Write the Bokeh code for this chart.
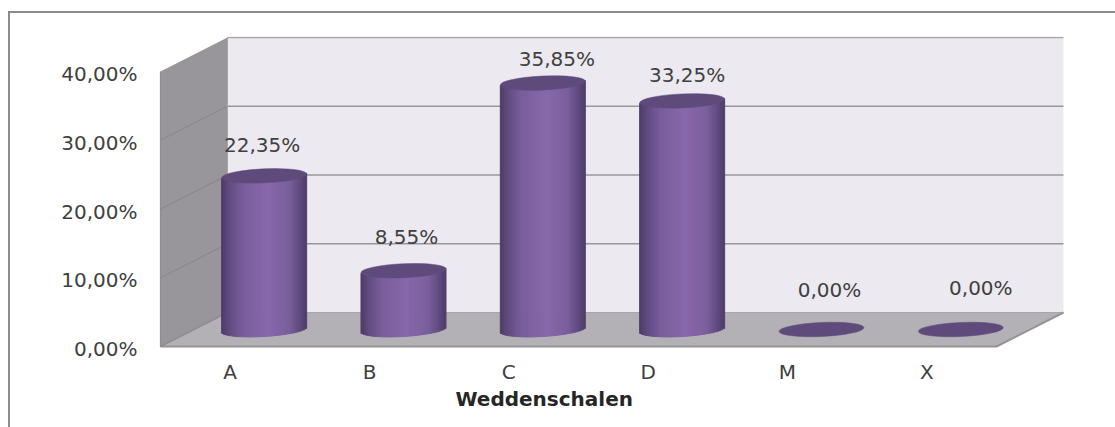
from bokeh.plotting import figure
from bokeh.models import Range1d, ColumnDataSource, Title
from bokeh.core.properties import value
from bokeh.embed import file_html
from bokeh.resources import INLINE
import numpy as np

categories = ["A", "B", "C", "D", "M", "X"]
values = [22.35, 8.55, 35.85, 33.25, 0.0, 0.0]
value_labels = ["22,35%", "8,55%", "35,85%", "33,25%", "0,00%", "0,00%"]
y_ticks = [0, 10, 20, 30, 40]
y_tick_labels = ["0,00%", "10,00%", "20,00%", "30,00%", "40,00%"]
x_title = "Weddenschalen"

FONT = "DejaVu Sans"
TXT = "#404040"
FS = "20px"

# layout (page pixels)
W, H = 1115, 427
L, R, T, B = 159, 1064, 36, 353
PX_CAT = 139.33
PX_PCT = 6.875
DX = 67 / PX_CAT       # depth of the 3D box in category units
DY = 34 / PX_PCT       # depth of the 3D box in percent units
BAR_DX = 34 / PX_CAT
BAR_BASE = 17 / PX_PCT
BAR_W = 85 / PX_CAT
ELL_H = 14 / PX_PCT
TILT = 5.0 / PX_PCT    # rise over the full bar width
LABEL_SHIFT = 2.5 / PX_PCT

y_start, y_end = -(B - 346) / PX_PCT, (346 - T) / PX_PCT
p = figure(width=W, height=H, output_backend="svg", toolbar_location=None,
           x_range=Range1d(-1 / PX_CAT, (R - 160) / PX_CAT),
           y_range=Range1d(y_start, y_end),
           min_border_left=L, min_border_right=W - R,
           min_border_top=T, min_border_bottom=H - B,
           tools="", background_fill_color=None, border_fill_color=None,
           outline_line_color=None)
p.extra_y_ranges = {"labels": Range1d(y_start + LABEL_SHIFT, y_end + LABEL_SHIFT)}
p.grid.visible = False

n = len(categories)
# walls
p.patch([DX, n + DX, n + DX, DX], [DY, DY, 40 + DY, 40 + DY], fill_color="#ECEAF0", line_color=None)
p.patch([0, DX, DX, 0], [0, DY, 40 + DY, 40], fill_color="#98969B", line_color=None)
p.patch([0, n, n + DX, DX], [0, 0, DY, DY], fill_color="#B3B1B5", line_color=None)
# gridlines
for t in y_ticks[1:-1]:
    p.line([DX, n + DX], [t + DY, t + DY], line_color="#98989C", line_width=1.5)
    p.line([0, DX], [t, t + DY], line_color="#87858A", line_width=1)
p.line([DX, n + DX], [40 + DY, 40 + DY], line_color="#A6A6A9", line_width=1.5)
p.line([DX, n + DX], [DY, DY], line_color="#A6A5A9", line_width=1)
p.line([DX, DX], [DY, 40 + DY], line_color="#A8A8AB", line_width=1)
p.line([0, n, n + DX], [0, 0, DY], line_color="#959598", line_width=2)
p.line([0, 0, DX], [40, 0, DY], line_color="#8E8E92", line_width=1.5)

# cylinders
stops_t = [0.0, 0.08, 0.25, 0.55, 0.8, 0.93, 1.0]
stops_c = np.array([[0x4C, 0x3B, 0x66], [0x5E, 0x49, 0x7E], [0x79, 0x5D, 0x9B],
                    [0x88, 0x68, 0xAB], [0x7A, 0x5E, 0x9C], [0x5E, 0x49, 0x7E], [0x4E, 0x3D, 0x68]])
STRIPS = 43
edges = np.linspace(0, 1, STRIPS + 1)
ql, qr, qb, qt, qc = [], [], [], [], []
for i, v in enumerate(values):
    if v <= 0:
        continue
    cx = i + 0.5 + BAR_DX
    for a, b in zip(edges[:-1], edges[1:]):
        m = (a + b) / 2
        u = 2 * m - 1
        arc = np.sqrt(max(0, 1 - u * u)) * ELL_H / 2
        tilt = u * TILT / 2
        ql.append(cx + (a - 0.5) * BAR_W)
        qr.append(cx + (b - 0.5) * BAR_W)
        qb.append(BAR_BASE + tilt - arc)
        qt.append(BAR_BASE + v + tilt)
        c = [np.interp(m, stops_t, stops_c[:, k]) for k in range(3)]
        qc.append("#%02x%02x%02x" % tuple(int(round(x)) for x in c))
p.quad(left=ql, right=qr, bottom=qb, top=qt, fill_color=qc, line_color=qc, line_width=1)

bar_x = [i + 0.5 + BAR_DX for i in range(n)]
bar_y = [BAR_BASE + v for v in values]
p.ellipse(x=bar_x, y=bar_y, width=85, height=14, width_units="screen", height_units="screen",
          angle=0.045, fill_color="#5F4A7C", line_color="#5F4A7C", line_width=0.5)

# value labels
label_dx = [-2, 3, 14, 5, 8, 20]
label_dy = [31, 34, 24, 26, 40, 42]
src = ColumnDataSource(dict(x=bar_x, y=bar_y, t=value_labels, xo=label_dx, yo=[-d for d in label_dy]))
p.text(x="x", y="y", text="t", x_offset="xo", y_offset="yo", source=src, text_align="center",
       text_baseline="middle", text_font=value(FONT), text_font_size=FS, text_color=TXT)

# axes
p.yaxis[0].y_range_name = "labels"
p.yaxis.ticker = y_ticks
p.yaxis.major_label_overrides = dict(zip(y_ticks, y_tick_labels))
p.yaxis.axis_line_color = None
p.yaxis.major_tick_line_color = None
p.yaxis.minor_tick_line_color = None
p.yaxis.major_label_standoff = 16
p.yaxis.major_label_text_font = FONT
p.yaxis.major_label_text_font_size = FS
p.yaxis.major_label_text_color = TXT

cat_ticks = [i + 0.5 for i in range(n)]
p.xaxis.ticker = cat_ticks
p.xaxis.major_label_overrides = dict(zip(cat_ticks, categories))
p.xaxis.axis_line_color = None
p.xaxis.major_tick_line_color = None
p.xaxis.minor_tick_line_color = None
p.xaxis.major_label_standoff = 0
p.xaxis.major_label_text_font = FONT
p.xaxis.major_label_text_font_size = FS
p.xaxis.major_label_text_color = TXT

# axis title: centred under the front floor edge as in the reference
p.add_layout(Title(text=x_title, align="left", offset=296, standoff=-4, text_font=FONT,
                   text_font_size="20px", text_font_style="bold", text_color="#262626"), "below")

# outer chart border (top and left only), drawn behind the transparent canvas
p.styles = {
    "background-color": "white",
    "background-image": "linear-gradient(#8C8C8C,#8C8C8C),linear-gradient(#8C8C8C,#8C8C8C)",
    "background-size": "100% 2px, 2px 100%",
    "background-position": "8px 11px, 8px 11px",
    "background-repeat": "no-repeat",
}

open("out.html", "w").write(file_html(p, INLINE))
